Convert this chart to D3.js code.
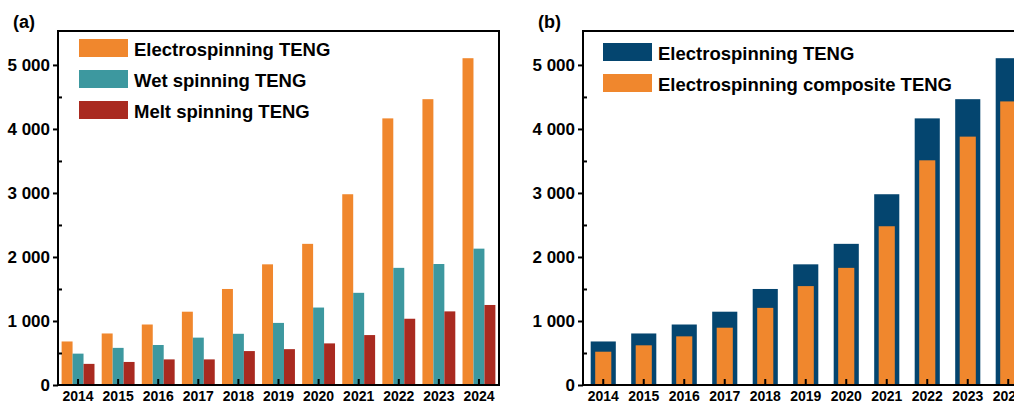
<!DOCTYPE html>
<meta charset="utf-8">
<title>TENG publications</title>
<style>

body {
  margin: 0;
  background: #fff;
}

svg {
  display: block;
  font-family: "Liberation Sans", Arial, sans-serif;
  font-weight: bold;
}

.axis path {
  display: none;
}

.axis line {
  stroke: #000;
  stroke-width: 2px;
}

.axis text {
  fill: #000;
  font-weight: bold;
}

.frame {
  fill: none;
  stroke: #000;
  stroke-width: 2px;
}

</style>
<svg width="1014" height="403"></svg>
<script src="https://cdn.jsdelivr.net/npm/d3@7"></script>
<script>

var years = ["2014", "2015", "2016", "2017", "2018", "2019", "2020", "2021", "2022", "2023", "2024"];

var electro = [680, 805, 945, 1145, 1500, 1885, 2205, 2980, 4165, 4465, 5105],
    wet = [490, 580, 625, 740, 800, 970, 1210, 1440, 1830, 1890, 2130],
    melt = [330, 360, 400, 400, 530, 560, 650, 780, 1035, 1150, 1250],
    composite = [520, 620, 760, 895, 1205, 1545, 1830, 2480, 3510, 3880, 4430];

var majorTicks = [0, 1000, 2000, 3000, 4000, 5000],
    minorTicks = [500, 1500, 2500, 3500, 4500];

var colors = {
  orange: "#f0872d",
  teal: "#3d989f",
  red: "#a92a20",
  navy: "#04456f"
};

var svg = d3.select("svg");

var fmt = function(d) { return d3.format(",")(d).replace(",", " "); };

var y = d3.scaleLinear()
    .domain([0, 5530])
    .range([385, 31]);

function drawAxes(x, left, right, label) {
  svg.append("rect")
      .attr("class", "frame")
      .attr("x", left)
      .attr("y", 31)
      .attr("width", right - left)
      .attr("height", 385 - 31);

  svg.append("g")
      .attr("class", "axis")
      .attr("transform", "translate(" + left + ",0)")
      .call(d3.axisLeft(y).tickValues(majorTicks).tickFormat(fmt).tickSize(5).tickPadding(3))
      .selectAll("text")
      .style("font-size", "17px");

  // short inward minor ticks
  svg.append("g")
      .attr("class", "axis")
      .attr("transform", "translate(" + left + ",0)")
      .call(d3.axisLeft(y).tickValues(minorTicks).tickFormat("").tickSize(-4));

  svg.append("g")
      .attr("class", "axis")
      .attr("transform", "translate(0,385)")
      .call(d3.axisBottom(x).tickSize(-6).tickPadding(6))
      .selectAll("text")
      .style("font-size", "14px");

  svg.append("text")
      .attr("x", left - 45)
      .attr("y", 28)
      .style("font-size", "18px")
      .text(label);
}

function drawLegend(items, x0, y0) {
  var row = svg.append("g")
    .selectAll("g")
    .data(items)
    .enter().append("g")
      .attr("transform", function(d, i) { return "translate(" + x0 + "," + (y0 + i * 31) + ")"; });

  row.append("rect")
      .attr("width", 49)
      .attr("height", 18)
      .attr("fill", function(d) { return d.color; });

  row.append("text")
      .attr("x", 55)
      .attr("y", 17)
      .style("font-size", "18.5px")
      .text(function(d) { return d.name; });
}

// (a) grouped bars
var xa = d3.scaleBand()
    .domain(years)
    .range([58, 499])
    .paddingInner(0.18)
    .paddingOuter(0.09);

var seriesA = [
  {name: "Electrospinning TENG", color: colors.orange, values: electro},
  {name: "Wet spinning TENG", color: colors.teal, values: wet},
  {name: "Melt spinning TENG", color: colors.red, values: melt}
];

var xa1 = d3.scaleBand()
    .domain(d3.range(seriesA.length))
    .range([0, xa.bandwidth()]);

seriesA.forEach(function(s, k) {
  svg.append("g")
    .selectAll("rect")
    .data(years)
    .enter().append("rect")
      .attr("x", function(d) { return xa(d) + xa1(k); })
      .attr("width", xa1.bandwidth())
      .attr("y", function(d, i) { return y(s.values[i]); })
      .attr("height", function(d, i) { return y(0) - y(s.values[i]); })
      .attr("fill", s.color);
});

drawAxes(xa, 58, 499, "(a)");
drawLegend(seriesA, 79, 39);

// (b) overlapped bars
var xb = d3.scaleBand()
    .domain(years)
    .range([583, 583 + 11 * 40.5])
    .paddingInner(0.38)
    .paddingOuter(0.19);

var inset = 4.5;

svg.append("g")
  .selectAll("rect")
  .data(years)
  .enter().append("rect")
    .attr("x", function(d) { return xb(d); })
    .attr("width", xb.bandwidth())
    .attr("y", function(d, i) { return y(electro[i]); })
    .attr("height", function(d, i) { return y(0) - y(electro[i]); })
    .attr("fill", colors.navy);

svg.append("g")
  .selectAll("rect")
  .data(years)
  .enter().append("rect")
    .attr("x", function(d) { return xb(d) + inset; })
    .attr("width", xb.bandwidth() - 2 * inset)
    .attr("y", function(d, i) { return y(composite[i]); })
    .attr("height", function(d, i) { return y(0) - y(composite[i]); })
    .attr("fill", colors.orange);

drawAxes(xb, 583, 583 + 11 * 40.5, "(b)");
drawLegend([
  {name: "Electrospinning TENG", color: colors.navy},
  {name: "Electrospinning composite TENG", color: colors.orange}
], 603, 43);

</script>
